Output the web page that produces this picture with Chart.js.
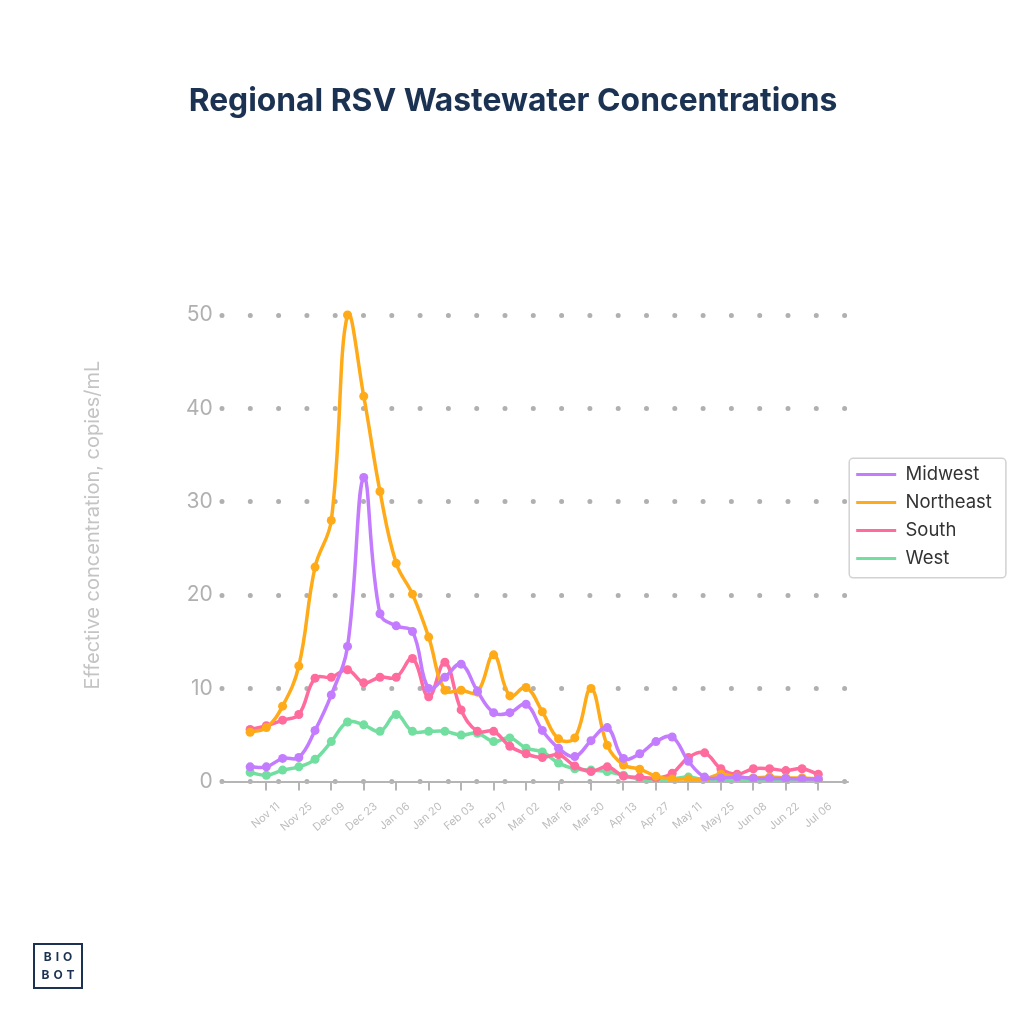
<!DOCTYPE html>
<html>
<head>
<meta charset="utf-8">
<script src="https://cdn.jsdelivr.net/npm/chart.js@4.4.1/dist/chart.umd.min.js"></script>
<style>
    html, body { margin: 0; padding: 0; background: #fff; }
    #wrap { position: relative; width: 1024px; height: 1024px; }
    #logo {
        position: absolute; left: 33px; top: 943px; width: 42px; height: 42px;
        border: 2.5px solid #1b3252; color: #1b3252;
        font: bold 12px Inter, sans-serif; letter-spacing: 4px;
        display: flex; flex-direction: column; align-items: center; justify-content: center;
        line-height: 18px; padding-left: 4px; box-sizing: content-box;
    }
</style>
</head>
<body>
<div id="wrap">
    <canvas id="grafico" width="1024" height="1024"></canvas>
    <div id="logo"><span>BIO</span><span>BOT</span></div>
</div>
<script>
// semanas (uma por ponto)
const semanas = ['Nov 04', 'Nov 11', 'Nov 18', 'Nov 25', 'Dec 02', 'Dec 09', 'Dec 16', 'Dec 23', 'Dec 30',
    'Jan 06', 'Jan 13', 'Jan 20', 'Jan 27', 'Feb 03', 'Feb 10', 'Feb 17', 'Feb 24', 'Mar 02', 'Mar 09',
    'Mar 16', 'Mar 23', 'Mar 30', 'Apr 06', 'Apr 13', 'Apr 20', 'Apr 27', 'May 04', 'May 11', 'May 18',
    'May 25', 'Jun 01', 'Jun 08', 'Jun 15', 'Jun 22', 'Jun 29', 'Jul 06'];

// rotulos do eixo x (a cada duas semanas)
const tickLabels = ['Nov 11', 'Nov 25', 'Dec 09', 'Dec 23', 'Jan 06', 'Jan 20', 'Feb 03', 'Feb 17', 'Mar 02',
    'Mar 16', 'Mar 30', 'Apr 13', 'Apr 27', 'May 11', 'May 25', 'Jun 08', 'Jun 22', 'Jul 06'];

const midwest = [1.6, 1.6, 2.5, 2.6, 5.5, 9.3, 14.5, 32.6, 18.0, 16.7, 16.1, 10.0, 11.2, 12.6, 9.7, 7.4, 7.4, 8.3,
    5.5, 3.6, 2.7, 4.4, 5.8, 2.5, 3.0, 4.3, 4.8, 2.2, 0.5, 0.4, 0.5, 0.35, 0.35, 0.35, 0.3, 0.3];
const northeast = [5.3, 5.8, 8.1, 12.4, 23.0, 28.0, 50.0, 41.3, 31.1, 23.4, 20.1, 15.5, 9.8, 9.8, 9.6, 13.6, 9.2, 10.1,
    7.5, 4.6, 4.7, 10.0, 3.9, 1.8, 1.35, 0.6, 0.3, 0.3, 0.3, 0.8, 0.5, 0.4, 0.5, 0.4, 0.4, 0.3];
const south = [5.6, 6.0, 6.6, 7.2, 11.1, 11.2, 12.0, 10.6, 11.2, 11.2, 13.2, 9.1, 12.8, 7.7, 5.4, 5.4, 3.8, 3.0,
    2.6, 2.9, 1.7, 1.1, 1.6, 0.6, 0.5, 0.4, 0.9, 2.6, 3.1, 1.4, 0.8, 1.4, 1.4, 1.2, 1.4, 0.8];
const west = [1.0, 0.7, 1.25, 1.6, 2.4, 4.3, 6.4, 6.1, 5.4, 7.2, 5.4, 5.4, 5.4, 5.0, 5.2, 4.3, 4.7, 3.6,
    3.2, 2.0, 1.4, 1.25, 1.1, 0.7, 0.3, 0.25, 0.3, 0.5, 0.2, 0.2, 0.15, 0.15, 0.15, 0.15, 0.15, 0.1];

const cores = { midwest: '#c47cff', northeast: '#ffab19', south: '#ff6b9d', west: '#72dea0' };

// monta uma serie no formato que o chart.js espera
function serie(nome, valores, cor) {
    return {
        label: nome,
        data: valores.map((v, i) => ({ x: i, y: v })),
        borderColor: cor,
        backgroundColor: cor,
        pointBackgroundColor: cor,
        pointBorderWidth: 0,
        pointRadius: 4.5,
        borderWidth: 3.5,
        tension: 0.4
    };
}

// posiciona e emoldura a legenda, e deixa as linhas de grade pontilhadas redondas
const molduraLegenda = {
    id: 'molduraLegenda',
    afterLayout(chart) {
        const lg = chart.legend;
        const area = chart.chartArea;
        const desloc = (area.top + area.bottom) / 2 - 8.5 - (lg.top + lg.bottom) / 2;
        lg.top += desloc;
        lg.bottom += desloc;
    },
    beforeDraw(chart) {
        chart.ctx.lineCap = 'round';
    },
    afterDraw(chart) {
        const caixas = chart.legend.legendHitBoxes;
        if (!caixas || !caixas.length) return;
        const esq = Math.min(...caixas.map(c => c.left)) - 7;
        const topo = Math.min(...caixas.map(c => c.top)) - 7;
        const dir = Math.max(...caixas.map(c => c.left + c.width)) + 14;
        const base = Math.max(...caixas.map(c => c.top + c.height)) + 10;
        const ctx = chart.ctx;
        ctx.save();
        ctx.strokeStyle = '#d2d2d2';
        ctx.lineWidth = 1.5;
        ctx.beginPath();
        ctx.roundRect(esq, topo, dir - esq, base - topo, 4);
        ctx.stroke();
        ctx.restore();
    }
};

Chart.defaults.font.family = 'Inter, sans-serif';

const ctx = document.getElementById('grafico').getContext('2d');
new Chart(ctx, {
    type: 'line',
    data: {
        datasets: [
            serie('Midwest', midwest, cores.midwest),
            serie('Northeast', northeast, cores.northeast),
            serie('South', south, cores.south),
            serie('West', west, cores.west)
        ]
    },
    options: {
        responsive: false,
        animation: false,
        layout: { padding: { top: 0, left: 24.1, right: 22.1, bottom: 179.3 } },
        plugins: {
            tooltip: { enabled: false },
            title: {
                display: true,
                text: 'Regional RSV Wastewater Concentrations',
                color: '#1b3252',
                font: { family: 'Inter', size: 31.8, weight: 'bold', lineHeight: 1.2 },
                padding: { top: 82, bottom: 148.2 }
            },
            legend: {
                position: 'right',
                labels: {
                    boxWidth: 40,
                    boxHeight: 3,
                    padding: 9.5,
                    color: '#333333',
                    font: { size: 18.5 },
                    generateLabels(chart) {
                        const itens = Chart.defaults.plugins.legend.labels.generateLabels(chart);
                        itens.forEach(it => { it.fillStyle = it.strokeStyle; it.lineWidth = 0; });
                        return itens;
                    }
                }
            }
        },
        scales: {
            x: {
                type: 'linear',
                min: -1.75,
                max: 36.75,
                afterBuildTicks(scale) {
                    scale.ticks = tickLabels.map(l => ({ value: semanas.indexOf(l) }));
                },
                ticks: {
                    autoSkip: false,
                    minRotation: 40,
                    maxRotation: 40,
                    labelOffset: 12,
                    padding: 10,
                    color: '#bdbdbd',
                    font: { size: 11 },
                    callback: v => semanas[v]
                },
                grid: { drawOnChartArea: false, drawTicks: true, tickLength: 8, color: '#b5b5b5', lineWidth: 2 },
                border: { display: true, color: '#b5b5b5', width: 2 }
            },
            y: {
                min: 0,
                max: 55,
                ticks: { stepSize: 10, includeBounds: false, padding: 9, color: '#b0b0b0', font: { size: 21 } },
                grid: { color: '#b0b0b0', lineWidth: 5, drawTicks: false },
                border: { display: false, dash: [0, 28.3] },
                title: {
                    display: true,
                    text: 'Effective concentration, copies/mL',
                    color: '#c4c4c4',
                    font: { size: 20 },
                    padding: { top: 56.9, bottom: 71.9 }
                }
            }
        }
    },
    plugins: [molduraLegenda]
});
</script>
</body>
</html>
